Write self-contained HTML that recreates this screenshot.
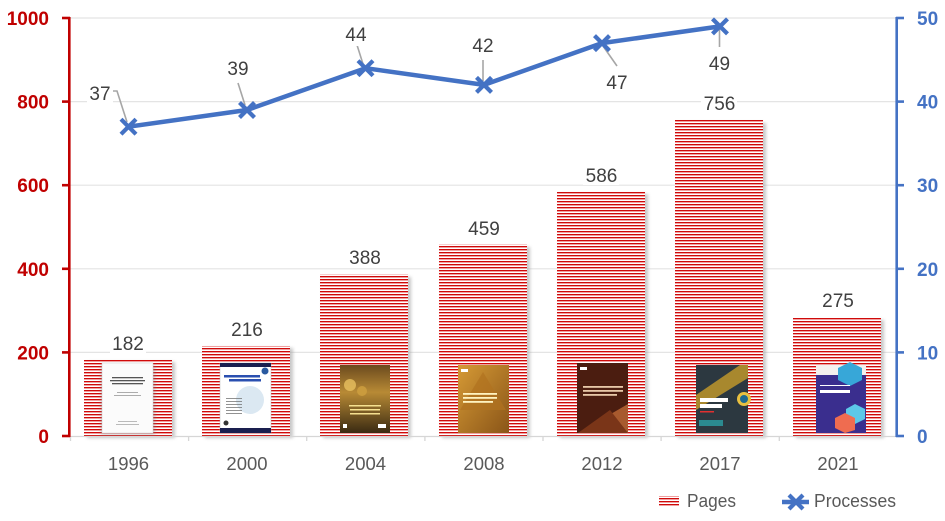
<!DOCTYPE html>
<html><head><meta charset="utf-8"><style>
html,body{margin:0;padding:0;background:#fff;}
svg{display:block;}
text{font-family:"Liberation Sans",Arial,sans-serif;}
</style></head><body>
<svg width="945" height="521" viewBox="0 0 945 521" xmlns="http://www.w3.org/2000/svg">
<defs>
<pattern id="st" patternUnits="userSpaceOnUse" width="6" height="3">
<rect x="0" y="0" width="6" height="3" fill="#fff"/>
<rect x="0" y="0" width="6" height="1" fill="#cf0a0a"/>
<rect x="0" y="1" width="6" height="1" fill="#f0a0a0"/>
</pattern>
<filter id="sh" x="-10%" y="-10%" width="130%" height="130%"><feGaussianBlur stdDeviation="1.5"/></filter>
<linearGradient id="g04" x1="0" y1="0" x2="0" y2="1"><stop offset="0" stop-color="#6b4a1e"/><stop offset="0.4" stop-color="#b88a35"/><stop offset="1" stop-color="#3a2a12"/></linearGradient>
<linearGradient id="g08" x1="0" y1="0" x2="1" y2="1"><stop offset="0" stop-color="#d69a35"/><stop offset="1" stop-color="#8a5518"/></linearGradient>
</defs>

<!-- gridlines -->
<g stroke="#e4e4e4" stroke-width="1.2">
<line x1="70" y1="18" x2="896" y2="18"/>
<line x1="70" y1="101.6" x2="896" y2="101.6"/>
<line x1="70" y1="185.2" x2="896" y2="185.2"/>
<line x1="70" y1="268.8" x2="896" y2="268.8"/>
<line x1="70" y1="352.4" x2="896" y2="352.4"/>
</g>

<!-- bar shadows -->
<g fill="#9a9a9a" opacity="0.55" filter="url(#sh)">
<rect x="87" y="362" width="88" height="76"/>
<rect x="205" y="348" width="88" height="90"/>
<rect x="323" y="277" width="88" height="161"/>
<rect x="442" y="247" width="88" height="191"/>
<rect x="560" y="194" width="88" height="244"/>
<rect x="678" y="123" width="88" height="315"/>
<rect x="796" y="320" width="88" height="118"/>
</g>
<!-- bars -->
<g fill="url(#st)">
<rect x="84" y="360" width="88" height="76"/>
<rect x="202" y="346" width="88" height="90"/>
<rect x="320" y="274.5" width="88" height="161.5"/>
<rect x="439" y="244.5" width="88" height="191.5"/>
<rect x="557" y="192" width="88" height="244"/>
<rect x="675" y="120" width="88" height="316"/>
<rect x="793" y="317" width="88" height="119"/>
</g>

<!-- covers -->
<g>
<!-- 1996 -->
<rect x="101" y="365" width="54" height="70" fill="#888" opacity="0.4" filter="url(#sh)"/>
<rect x="102" y="363" width="51" height="70" fill="#fbfbfb" stroke="#ccc" stroke-width="0.5"/>
<g fill="#555"><rect x="112" y="377" width="31" height="1.3"/><rect x="110" y="380" width="35" height="1.3"/><rect x="112" y="383" width="31" height="1.3"/>
<rect x="117" y="392" width="21" height="0.8" fill="#999"/><rect x="114" y="395" width="27" height="0.8" fill="#999"/>
<rect x="118" y="421" width="19" height="0.8" fill="#aaa"/><rect x="116" y="424" width="23" height="0.8" fill="#aaa"/></g>
<!-- 2000 -->
<rect x="220" y="363" width="51" height="70" fill="#fff" stroke="#bbb" stroke-width="0.5"/>
<rect x="220" y="363" width="51" height="4" fill="#1a1f4f"/>
<rect x="220" y="428" width="51" height="5" fill="#1a1f4f"/>
<circle cx="250" cy="400" r="14" fill="#dbe8f2"/>
<circle cx="265" cy="371" r="3.5" fill="#2a5aa0"/>
<g fill="#2a4fb0"><rect x="224" y="375" width="36" height="2.5"/><rect x="229" y="379" width="32" height="2.5"/></g>
<g fill="#777"><rect x="226" y="398" width="16" height="0.8"/><rect x="226" y="401" width="16" height="0.8"/><rect x="226" y="404" width="16" height="0.8"/><rect x="226" y="407" width="16" height="0.8"/><rect x="226" y="410" width="16" height="0.8"/><rect x="226" y="413" width="16" height="0.8"/></g>
<circle cx="226" cy="423" r="2.5" fill="#333"/>
<!-- 2004 -->
<rect x="340" y="365" width="50" height="68" fill="url(#g04)"/>
<circle cx="350" cy="385" r="6" fill="#e8c060" opacity="0.8"/>
<circle cx="362" cy="391" r="5" fill="#d0a040" opacity="0.8"/>
<g fill="#f5e090"><rect x="349" y="405" width="32" height="1.5"/><rect x="350" y="409" width="30" height="1.5"/><rect x="350" y="413" width="30" height="1.5"/></g>
<rect x="343" y="424" width="4" height="4" fill="#fff"/><rect x="378" y="424" width="8" height="4" fill="#fff"/>
<!-- 2008 -->
<rect x="458" y="365" width="51" height="68" fill="url(#g08)"/>
<polygon points="483,372 506,410 460,410" fill="#b0721f" opacity="0.7"/>
<g fill="#fff3c0"><rect x="463" y="393" width="34" height="1.8"/><rect x="463" y="397" width="34" height="1.8"/><rect x="463" y="401" width="30" height="1.8"/></g>
<rect x="461" y="369" width="7" height="3" fill="#fff"/>
<!-- 2012 -->
<rect x="577" y="363" width="51" height="70" fill="#4b1d10"/>
<polygon points="578,433 628,404 628,433" fill="#a85a2e"/>
<polygon points="578,433 610,410 628,433" fill="#7a3518"/>
<g fill="#e8c8a8"><rect x="583" y="386" width="40" height="1.8"/><rect x="583" y="390" width="40" height="1.8"/><rect x="583" y="394" width="34" height="1.8"/></g>
<rect x="580" y="367" width="7" height="3" fill="#fff"/>
<!-- 2017 -->
<rect x="696" y="365" width="52" height="68" fill="#2c3840"/>
<polygon points="696,395 740,365 748,365 748,378 696,410" fill="#a8882e"/>
<circle cx="744" cy="399" r="7" fill="#e8c040"/><circle cx="744" cy="399" r="4" fill="#1f6a90"/>
<g fill="#fff"><rect x="700" y="398" width="28" height="4"/><rect x="700" y="404" width="22" height="4"/></g>
<rect x="700" y="411" width="14" height="1.5" fill="#e03030"/>
<rect x="699" y="420" width="24" height="6" fill="#2b8a90"/>
<!-- 2021 -->
<rect x="816" y="365" width="50" height="68" fill="#3a2e8e"/>
<rect x="816" y="365" width="50" height="10" fill="#f3f0ee"/>
<polygon points="838,368 850,362 862,368 862,380 850,386 838,380" fill="#37a7d8"/>
<polygon points="846,409 855,404 865,409 865,419 855,424 846,419" fill="#5cc8e8"/>
<polygon points="835,418 845,413 855,418 855,430 845,433 835,428" fill="#ef6c50"/>
<g fill="#fff"><rect x="820" y="390" width="30" height="3"/><rect x="820" y="385" width="30" height="1"/></g>
</g>

<!-- x axis -->
<g stroke="#d6d6d6" stroke-width="1.3">
<line x1="70" y1="436.5" x2="896" y2="436.5"/>
<line x1="70.5" y1="436" x2="70.5" y2="441"/>
<line x1="188.6" y1="436" x2="188.6" y2="441"/>
<line x1="306.7" y1="436" x2="306.7" y2="441"/>
<line x1="424.9" y1="436" x2="424.9" y2="441"/>
<line x1="543" y1="436" x2="543" y2="441"/>
<line x1="661.1" y1="436" x2="661.1" y2="441"/>
<line x1="779.3" y1="436" x2="779.3" y2="441"/>
</g>

<!-- left axis -->
<g stroke="#c00000" stroke-width="2.6">
<line x1="69.3" y1="17" x2="69.3" y2="437"/>
<line x1="62" y1="18" x2="70" y2="18"/>
<line x1="62" y1="101.6" x2="70" y2="101.6"/>
<line x1="62" y1="185.2" x2="70" y2="185.2"/>
<line x1="62" y1="268.8" x2="70" y2="268.8"/>
<line x1="62" y1="352.4" x2="70" y2="352.4"/>
<line x1="62" y1="436" x2="70" y2="436"/>
</g>
<g fill="#c00000" font-weight="bold" font-size="19" text-anchor="end">
<text x="49" y="25">1000</text>
<text x="49" y="108.6">800</text>
<text x="49" y="192.2">600</text>
<text x="49" y="275.8">400</text>
<text x="49" y="359.4">200</text>
<text x="49" y="443">0</text>
</g>

<!-- right axis -->
<g stroke="#4472c4" stroke-width="2.6">
<line x1="896.7" y1="17" x2="896.7" y2="437"/>
<line x1="896" y1="18" x2="904" y2="18"/>
<line x1="896" y1="101.6" x2="904" y2="101.6"/>
<line x1="896" y1="185.2" x2="904" y2="185.2"/>
<line x1="896" y1="268.8" x2="904" y2="268.8"/>
<line x1="896" y1="352.4" x2="904" y2="352.4"/>
<line x1="896" y1="436" x2="904" y2="436"/>
</g>
<g fill="#4472c4" font-weight="bold" font-size="19">
<text x="917" y="25">50</text>
<text x="917" y="108.6">40</text>
<text x="917" y="192.2">30</text>
<text x="917" y="275.8">20</text>
<text x="917" y="359.4">10</text>
<text x="917" y="443">0</text>
</g>

<!-- x labels -->
<g fill="#595959" font-size="18.5" text-anchor="middle">
<text x="128.5" y="470">1996</text>
<text x="247" y="470">2000</text>
<text x="365.5" y="470">2004</text>
<text x="484" y="470">2008</text>
<text x="602" y="470">2012</text>
<text x="720" y="470">2017</text>
<text x="838" y="470">2021</text>
</g>

<!-- bar value labels -->
<g fill="#fff">
<rect x="110" y="332" width="36" height="22"/>
<rect x="229" y="318" width="36" height="22"/>
<rect x="347" y="246" width="36" height="22"/>
<rect x="466" y="216" width="36" height="22"/>
<rect x="583" y="163" width="36" height="22"/>
<rect x="701" y="92" width="36" height="22"/>
<rect x="820" y="289" width="36" height="22"/>
</g>
<g fill="#404040" font-size="19" text-anchor="middle">
<text x="128" y="350">182</text>
<text x="247" y="336">216</text>
<text x="365" y="264">388</text>
<text x="484" y="235">459</text>
<text x="601.5" y="182">586</text>
<text x="719.5" y="110">756</text>
<text x="838" y="307">275</text>
</g>

<!-- leader lines -->
<g stroke="#a6a6a6" stroke-width="1.6" fill="none">
<polyline points="113,91 117,91 127,122"/>
<line x1="238" y1="83" x2="245" y2="105"/>
<line x1="357" y1="45" x2="363" y2="64"/>
<line x1="483" y1="60" x2="483" y2="81"/>
<line x1="603" y1="46" x2="617" y2="66"/>
<line x1="719.5" y1="29" x2="719.5" y2="47"/>
</g>

<!-- line series -->
<polyline points="128.5,126.7 247,110 365.5,68.2 484,84.9 602,43.1 720,26.4" fill="none" stroke="#4472c4" stroke-width="4.5" stroke-linejoin="round"/>
<g stroke="#4472c4" stroke-width="4.2" stroke-linecap="butt">
<path d="M121,119.2 L136,134.2 M136,119.2 L121,134.2"/>
<path d="M239.5,102.5 L254.5,117.5 M254.5,102.5 L239.5,117.5"/>
<path d="M358,60.7 L373,75.7 M373,60.7 L358,75.7"/>
<path d="M476.5,77.4 L491.5,92.4 M491.5,77.4 L476.5,92.4"/>
<path d="M594.5,35.6 L609.5,50.6 M609.5,35.6 L594.5,50.6"/>
<path d="M712.5,18.9 L727.5,33.9 M727.5,18.9 L712.5,33.9"/>
</g>

<!-- line labels -->
<g fill="#fff">
<rect x="87" y="79" width="26" height="26"/>
<rect x="225" y="55" width="26" height="26"/>
<rect x="343" y="20" width="26" height="26"/>
<rect x="470" y="32" width="26" height="26"/>
<rect x="604" y="68" width="26" height="26"/>
<rect x="706" y="50" width="27" height="26"/>
</g>
<g fill="#404040" font-size="19" text-anchor="middle">
<text x="100" y="100">37</text>
<text x="238" y="75">39</text>
<text x="356" y="41">44</text>
<text x="483" y="52">42</text>
<text x="617" y="89">47</text>
<text x="719.5" y="70">49</text>
</g>

<!-- legend -->
<rect x="659" y="496" width="20" height="11" fill="url(#st)"/>
<text x="687" y="507" fill="#595959" font-size="18.5" textLength="49" lengthAdjust="spacingAndGlyphs">Pages</text>
<line x1="782" y1="502" x2="809" y2="502" stroke="#4472c4" stroke-width="4.5"/>
<path d="M789,495 L803,509 M803,495 L789,509" stroke="#4472c4" stroke-width="4.2"/>
<text x="814" y="507" fill="#595959" font-size="18.5" textLength="82" lengthAdjust="spacingAndGlyphs">Processes</text>
</svg>
</body></html>
